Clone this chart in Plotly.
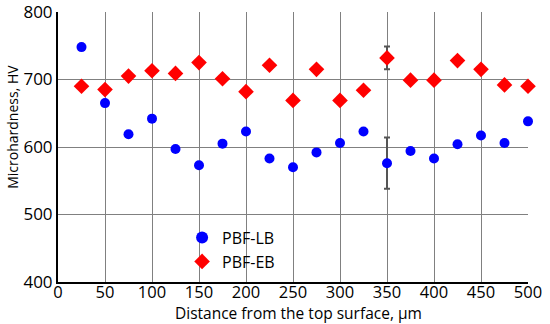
import plotly.graph_objects as go

distance = [25, 50, 75, 100, 125, 150, 175, 200, 225, 250, 275, 300, 325, 350, 375, 400, 425, 450, 475, 500]
pbf_lb = [748, 665, 619, 642, 597, 573, 605, 623, 583, 570, 592, 606, 623, 576, 594, 583, 604, 617, 606, 638]
pbf_eb = [690, 685, 705, 713, 709, 725, 701, 682, 721, 669, 715, 669, 684, 732, 699, 699, 728, 715, 692, 690]
lb_err = [0] * 13 + [38] + [0] * 6
eb_err = [0] * 13 + [17] + [0] * 6

fig = go.Figure()
fig.add_trace(go.Scatter(
    x=distance, y=pbf_lb, mode="markers", name="PBF-LB",
    marker=dict(color="#0000ff", size=10, symbol="circle"),
    error_y=dict(type="data", array=lb_err, visible=True, color="#555555", thickness=2, width=3),
    cliponaxis=False,
))
fig.add_trace(go.Scatter(
    x=distance, y=pbf_eb, mode="markers", name="PBF-EB",
    marker=dict(color="#ff0000", size=12, symbol="diamond"),
    error_y=dict(type="data", array=eb_err, visible=True, color="#555555", thickness=2, width=3),
    cliponaxis=False,
))

font = "Open Sans"
fig.update_layout(
    width=550, height=324,
    margin=dict(l=58, r=22, t=12, b=42),
    paper_bgcolor="white", plot_bgcolor="white",
    font=dict(family=font, color="#000000"),
    showlegend=True,
    legend=dict(x=0.264, y=0.227, xanchor="left", yanchor="top", bgcolor="rgba(0,0,0,0)",
                font=dict(size=16, family=font), itemsizing="constant", tracegroupgap=0,
                itemwidth=30),
    xaxis=dict(range=[0, 500], dtick=50, tick0=0, showgrid=True, gridcolor="#808080", gridwidth=1,
               showline=True, linecolor="#000000", linewidth=2, mirror=False, automargin=False,
               ticks="", tickfont=dict(size=16.5), zeroline=False, ticklabelstandoff=-6,
               ticklabeloverflow="allow"),
    yaxis=dict(range=[400, 800], dtick=100, showgrid=True, gridcolor="#808080", gridwidth=1,
               showline=True, linecolor="#000000", linewidth=2, automargin=False,
               ticks="", tickfont=dict(size=17), zeroline=False, ticklabeloverflow="allow"),
    annotations=[
        dict(text="Distance from the top surface, μm", xref="paper", yref="paper",
             x=0.512, y=-0.114, xanchor="center", yanchor="middle", showarrow=False,
             font=dict(size=15.5, family=font)),
        dict(text="Microhardness, HV", xref="paper", yref="paper",
             x=-0.0957, y=0.575, xanchor="center", yanchor="middle", showarrow=False,
             textangle=-90, font=dict(size=14, family=font)),
    ],
)
fig.write_html("out.html", config={"displayModeBar": False},
               post_script="document.body.style.margin='0';")
